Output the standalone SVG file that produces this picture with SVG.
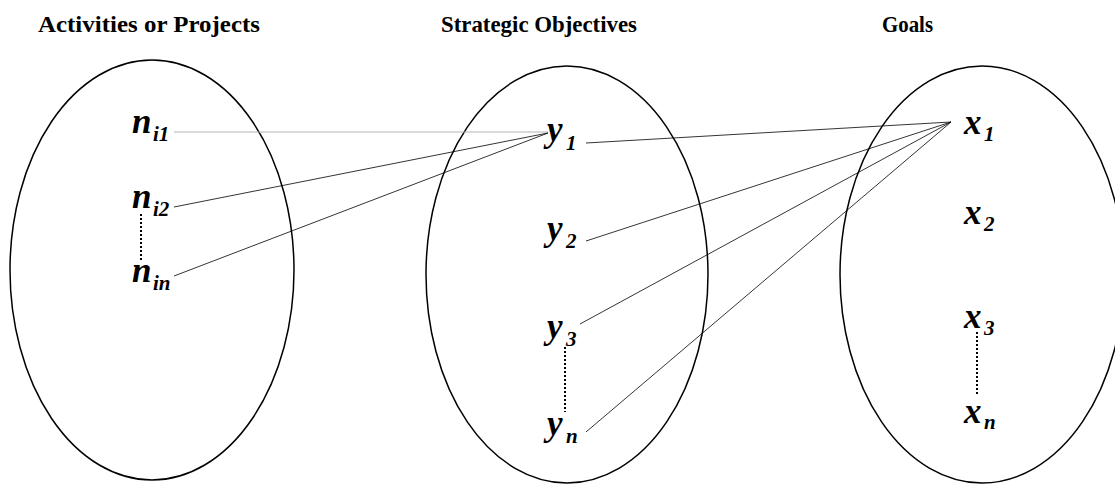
<svg xmlns="http://www.w3.org/2000/svg" width="1115" height="485" viewBox="0 0 1115 485">
<style>
text{font-family:'Liberation Serif','Times New Roman',serif;fill:#000}
.title{font-weight:bold;font-size:23px}
.v{font-weight:bold;font-style:italic;font-size:35px}
.s{font-weight:bold;font-style:italic;font-size:21px}
.ell{fill:none;stroke:#000;stroke-width:1.5}
.ln{stroke:#000;stroke-width:0.8;fill:none}
.dot{stroke:#000;stroke-width:2;stroke-dasharray:2 2;fill:none}
</style>
<rect width="1115" height="485" fill="#fff"/>
<g id="titles">
<text class="title" x="38" y="32" textLength="222" lengthAdjust="spacingAndGlyphs">Activities or Projects</text>
<text class="title" x="441" y="32" textLength="196" lengthAdjust="spacingAndGlyphs">Strategic Objectives</text>
<text class="title" x="882" y="32" textLength="51" lengthAdjust="spacingAndGlyphs">Goals</text>
</g>
<g id="set-activities">
<ellipse class="ell" cx="152" cy="270" rx="142" ry="210"/>
</g>
<g id="set-objectives">
<ellipse class="ell" cx="567" cy="274.5" rx="141" ry="208.5"/>
</g>
<g id="set-goals">
<ellipse class="ell" cx="982" cy="274.5" rx="142" ry="208.5"/>
</g>
<g id="connectors">
<line x1="174" y1="132" x2="548" y2="132" stroke="#aaa" stroke-width="0.9"/>
<line class="ln" x1="174" y1="207" x2="548" y2="133"/>
<line class="ln" x1="174" y1="276" x2="548" y2="133"/>
<line class="ln" x1="586" y1="143" x2="951" y2="122"/>
<line class="ln" x1="586" y1="241" x2="951" y2="122"/>
<line class="ln" x1="580" y1="324" x2="951" y2="122"/>
<line class="ln" x1="586" y1="432" x2="951" y2="122"/>
<line class="dot" x1="141" y1="214" x2="141" y2="260"/>
<line class="dot" x1="565" y1="347" x2="565" y2="412"/>
<line class="dot" x1="977" y1="332" x2="977" y2="395"/>
</g>
<g id="node-ni1"><text class="v" x="132" y="133">n</text><text class="s" x="153" y="141">i1</text></g>
<g id="node-ni2"><text class="v" x="132" y="208">n</text><text class="s" x="153" y="216">i2</text></g>
<g id="node-nin"><text class="v" x="132" y="282">n</text><text class="s" x="153" y="290">in</text></g>
<g id="node-y1"><text class="v" x="547" y="141">y</text><text class="s" x="566" y="150">1</text></g>
<g id="node-y2"><text class="v" x="547" y="240">y</text><text class="s" x="566" y="248">2</text></g>
<g id="node-y3"><text class="v" x="547" y="338">y</text><text class="s" x="566" y="346">3</text></g>
<g id="node-yn"><text class="v" x="547" y="435">y</text><text class="s" x="566" y="443">n</text></g>
<g id="node-x1"><text class="v" x="964" y="134">x</text><text class="s" x="984" y="141">1</text></g>
<g id="node-x2"><text class="v" x="964" y="224">x</text><text class="s" x="984" y="231">2</text></g>
<g id="node-x3"><text class="v" x="964" y="328">x</text><text class="s" x="984" y="335">3</text></g>
<g id="node-xn"><text class="v" x="964" y="423">x</text><text class="s" x="984" y="429">n</text></g>
</svg>
